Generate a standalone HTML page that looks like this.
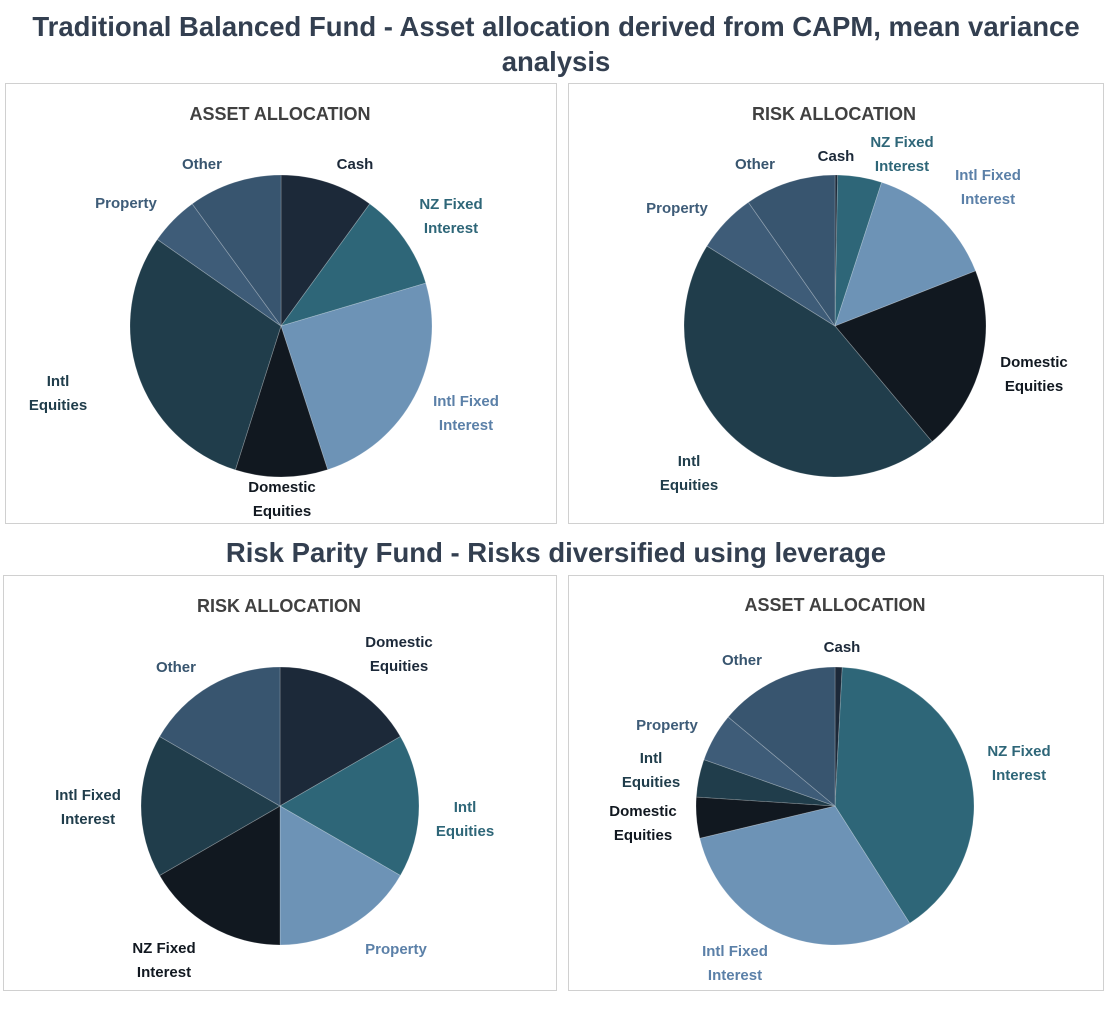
<!DOCTYPE html>
<html><head><meta charset="utf-8"><style>
body{margin:0;background:#fff;width:1113px;height:1020px;overflow:hidden}
svg{display:block}
text{font-family:"Liberation Sans",sans-serif;font-weight:bold}
.t{font-size:27.5px;fill:#333f50}
.p{font-size:18px;fill:#404040}
.l{font-size:15px}
</style></head><body>
<svg id="s" width="1113" height="1020" xmlns="http://www.w3.org/2000/svg">
<text class="t" x="556" y="36" text-anchor="middle">Traditional Balanced Fund - Asset allocation derived from CAPM, mean variance</text>
<text class="t" x="556" y="71" text-anchor="middle">analysis</text>
<text class="t" x="556" y="562" text-anchor="middle">Risk Parity Fund - Risks diversified using leverage</text>
<rect x="5.5" y="83.5" width="551" height="440" fill="none" stroke="#d0d0d0"/>
<rect x="568.5" y="83.5" width="535" height="440" fill="none" stroke="#d0d0d0"/>
<rect x="3.5" y="575.5" width="553" height="415" fill="none" stroke="#d0d0d0"/>
<rect x="568.5" y="575.5" width="535" height="415" fill="none" stroke="#d0d0d0"/>
<text class="p" x="280" y="120" text-anchor="middle">ASSET ALLOCATION</text>
<text class="p" x="834" y="120" text-anchor="middle">RISK ALLOCATION</text>
<text class="p" x="279" y="612" text-anchor="middle">RISK ALLOCATION</text>
<text class="p" x="835" y="611" text-anchor="middle">ASSET ALLOCATION</text>
<g id="pies"></g>
<g class="l" text-anchor="middle">
<text x="355" y="169" fill="#1c2939">Cash</text>
<text x="451" y="209" fill="#2e6678">NZ Fixed</text><text x="451" y="233" fill="#2e6678">Interest</text>
<text x="466" y="406" fill="#5b80a8">Intl Fixed</text><text x="466" y="430" fill="#5b80a8">Interest</text>
<text x="282" y="492" fill="#111820">Domestic</text><text x="282" y="516" fill="#111820">Equities</text>
<text x="58" y="386" fill="#203d4b">Intl</text><text x="58" y="410" fill="#203d4b">Equities</text>
<text x="126" y="208" fill="#3e5c78">Property</text>
<text x="202" y="169" fill="#38556f">Other</text>

<text x="836" y="161" fill="#1c2939">Cash</text>
<text x="902" y="147" fill="#2e6678">NZ Fixed</text><text x="902" y="171" fill="#2e6678">Interest</text>
<text x="988" y="180" fill="#5b80a8">Intl Fixed</text><text x="988" y="204" fill="#5b80a8">Interest</text>
<text x="1034" y="367" fill="#111820">Domestic</text><text x="1034" y="391" fill="#111820">Equities</text>
<text x="689" y="466" fill="#203d4b">Intl</text><text x="689" y="490" fill="#203d4b">Equities</text>
<text x="677" y="213" fill="#3e5c78">Property</text>
<text x="755" y="169" fill="#38556f">Other</text>

<text x="399" y="647" fill="#1c2939">Domestic</text><text x="399" y="671" fill="#1c2939">Equities</text>
<text x="465" y="812" fill="#2e6678">Intl</text><text x="465" y="836" fill="#2e6678">Equities</text>
<text x="396" y="954" fill="#5b80a8">Property</text>
<text x="164" y="953" fill="#111820">NZ Fixed</text><text x="164" y="977" fill="#111820">Interest</text>
<text x="88" y="800" fill="#203d4b">Intl Fixed</text><text x="88" y="824" fill="#203d4b">Interest</text>
<text x="176" y="672" fill="#38556f">Other</text>

<text x="842" y="652" fill="#1c2939">Cash</text>
<text x="1019" y="756" fill="#2e6678">NZ Fixed</text><text x="1019" y="780" fill="#2e6678">Interest</text>
<text x="735" y="956" fill="#5b80a8">Intl Fixed</text><text x="735" y="980" fill="#5b80a8">Interest</text>
<text x="643" y="816" fill="#111820">Domestic</text><text x="643" y="840" fill="#111820">Equities</text>
<text x="651" y="763" fill="#203d4b">Intl</text><text x="651" y="787" fill="#203d4b">Equities</text>
<text x="667" y="730" fill="#3e5c78">Property</text>
<text x="742" y="665" fill="#38556f">Other</text>
</g>
</svg>
<script>
var C=["#1c2939","#2e6678","#6d93b6","#111820","#203d4b","#3e5c78","#38556f"];
var pies=[
 [281,326,151,[0,36,73.5,162,197.6,305,324,360],[0,1,2,3,4,5,6]],
 [835,326,151,[0,1,18,68.6,140,302,325,360],[0,1,2,3,4,5,6]],
 [280,806,139,[0,60,120,180,240,300,360],[0,1,2,3,4,6]],
 [835,806,139,[0,3,147.5,256.6,273.7,289.5,309.8,360],[0,1,2,3,4,5,6]]
];
var g=document.getElementById("pies"),h="";
pies.forEach(function(p){
 var cx=p[0],cy=p[1],r=p[2],a=p[3];
 for(var i=0;i<a.length-1;i++){
  var a0=a[i]*Math.PI/180,a1=a[i+1]*Math.PI/180;
  var x0=cx+r*Math.sin(a0),y0=cy-r*Math.cos(a0),x1=cx+r*Math.sin(a1),y1=cy-r*Math.cos(a1);
  var lg=(a[i+1]-a[i])>180?1:0;
  h+='<path d="M'+cx+' '+cy+'L'+x0+' '+y0+'A'+r+' '+r+' 0 '+lg+' 1 '+x1+' '+y1+'Z" fill="'+C[p[4][i]]+'" stroke="#ffffff" stroke-opacity="0.25" stroke-width="0.8"/>';
 }
});
g.innerHTML=h;
</script>
</body></html>
